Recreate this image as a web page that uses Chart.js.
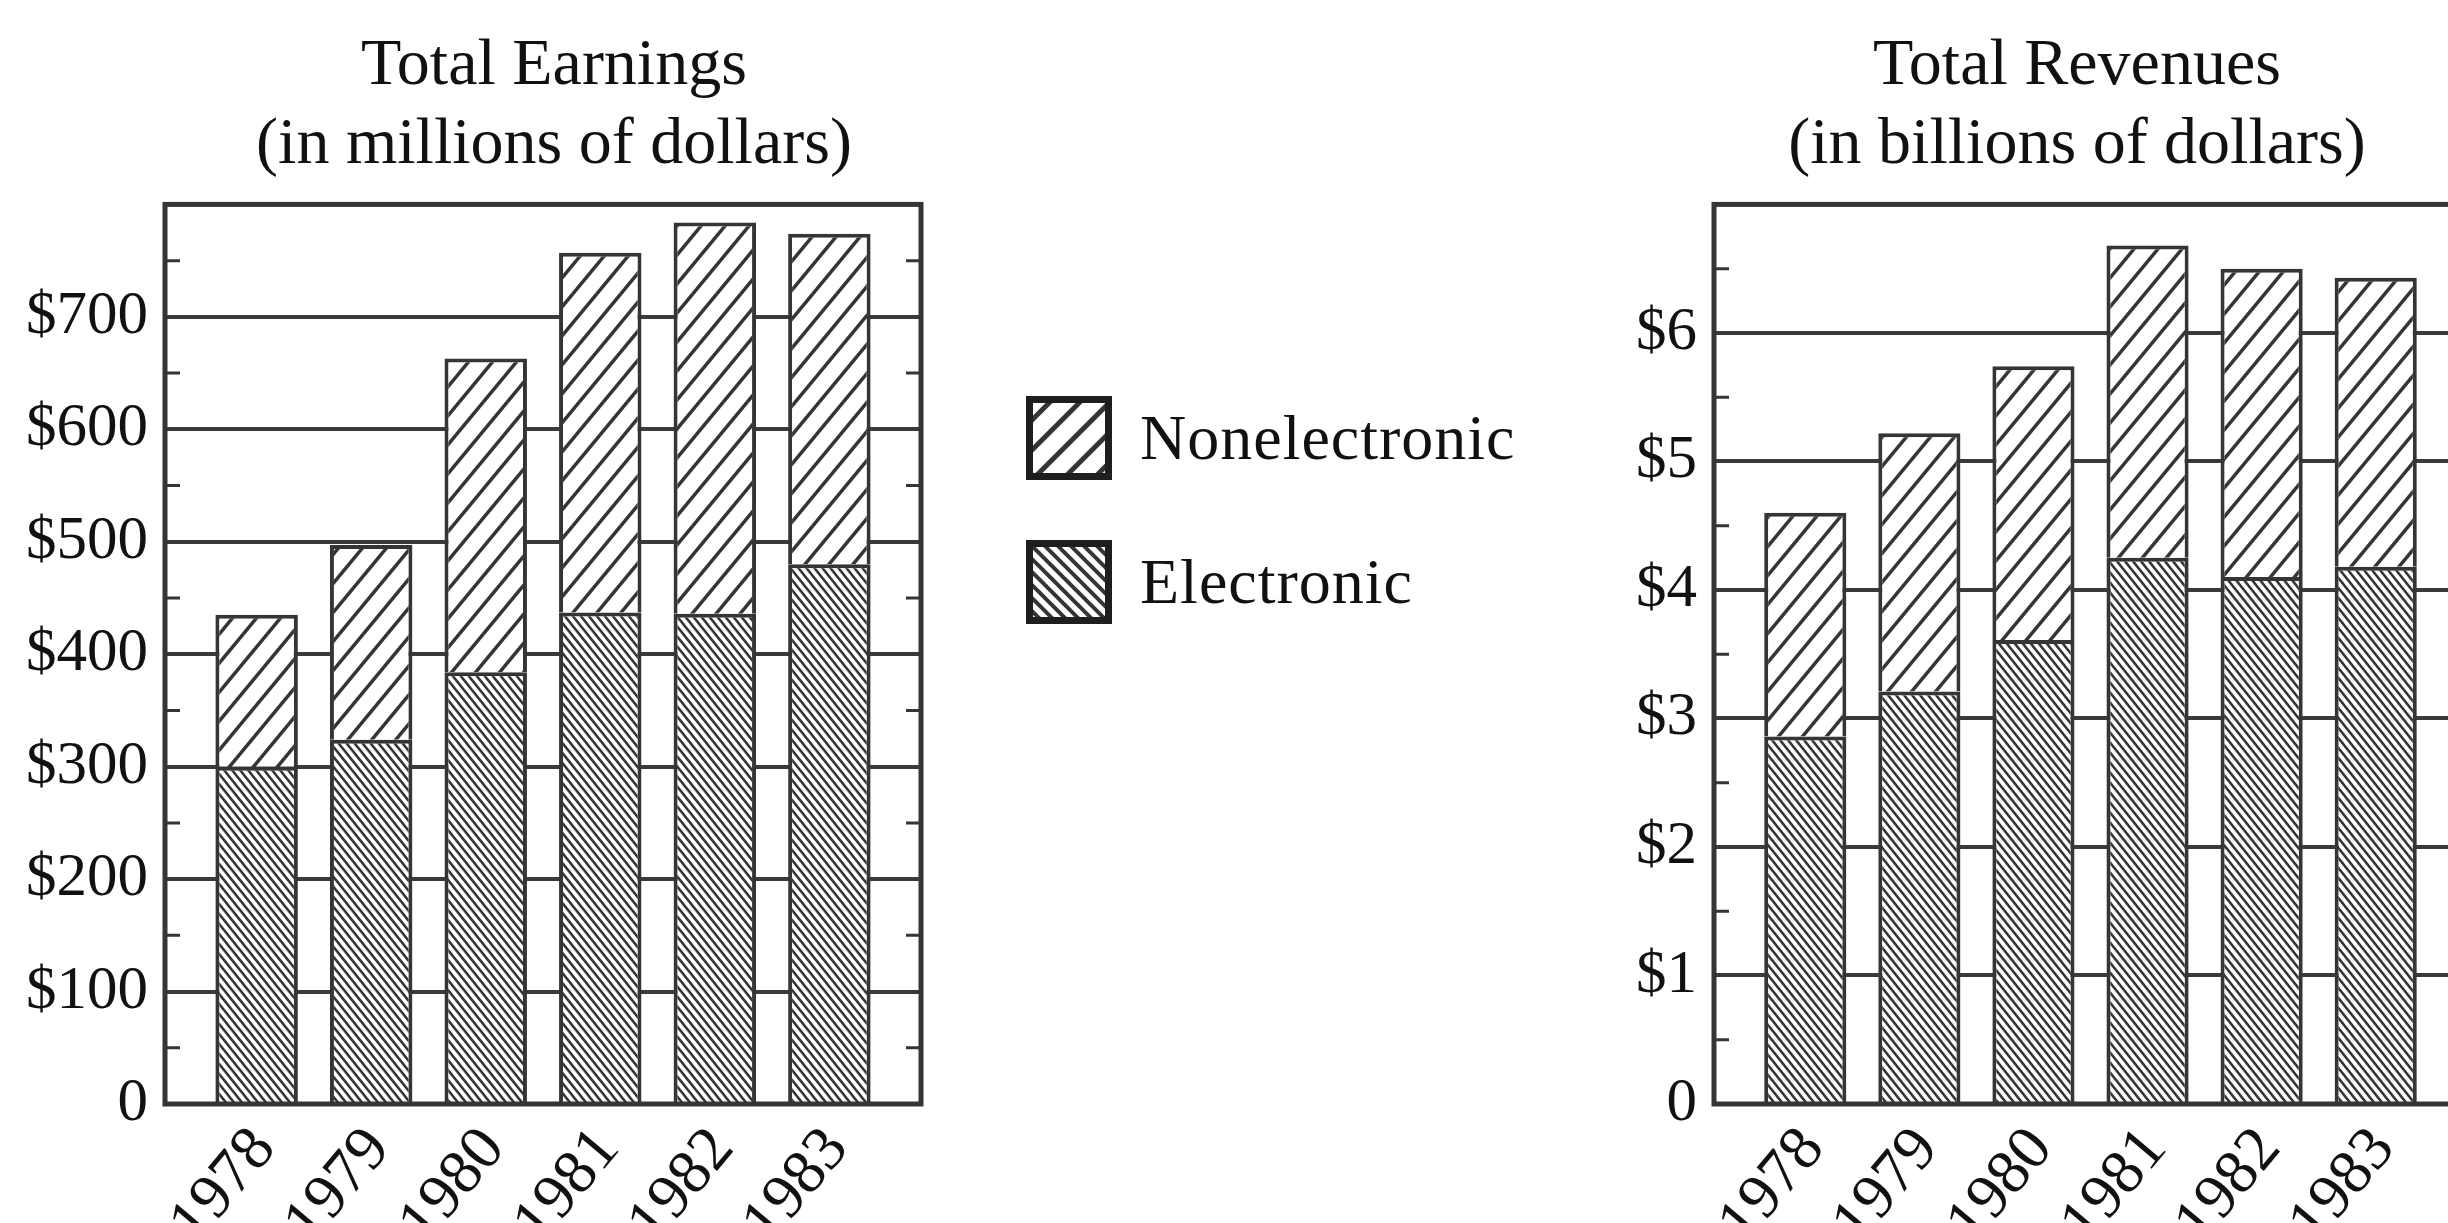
<!DOCTYPE html>
<html>
<head>
<meta charset="utf-8">
<title>Earnings and Revenues</title>
<script src="https://cdn.jsdelivr.net/npm/chart.js@4.4.1/dist/chart.umd.min.js"></script>
<style>
  html, body { margin: 0; padding: 0; background: #fff; overflow: hidden; }
  body { width: 2448px; height: 1223px; position: relative; font-family: 'Liberation Serif', serif; }
  .box { position: absolute; top: 0; }
  #leftBox { left: 0; }
  #rightBox { left: 1500px; }
  #legend { position: absolute; left: 1026px; top: 396px; z-index: 2; }
  .item { display: flex; align-items: center; height: 84px; margin-bottom: 60px; }
  .item span { font-size: 64px; margin-left: 28px; color: #111; letter-spacing: 1px; }
</style>
</head>
<body>
<div id="leftBox" class="box"><canvas id="earnings" width="1108" height="1223"></canvas></div>
<div id="rightBox" class="box"><canvas id="revenues" width="1154" height="1223"></canvas></div>
<div id="legend">
  <div class="item"><canvas id="swNon" width="86" height="84"></canvas><span>Nonelectronic</span></div>
  <div class="item"><canvas id="swElec" width="86" height="84"></canvas><span>Electronic</span></div>
</div>
<script>
// =============================
// DATA
// =============================
const years = ["1978", "1979", "1980", "1981", "1982", "1983"];

// Total earnings, millions of dollars
const earnElectronic    = [300, 324, 384, 437, 436, 480];
const earnNonelectronic = [135, 173, 279, 320, 348, 294];

// Total revenues, billions of dollars
const revElectronic    = [2.86, 3.21, 3.61, 4.25, 4.10, 4.18];
const revNonelectronic = [1.74, 2.01, 2.13, 2.43, 2.40, 2.25];

// =============================
// STYLE
// =============================
const SERIF = "'Liberation Serif', 'Times New Roman', serif";
const INK = "#353535";
const GRID = "#3a3a3a";

// diagonal hatch tile, '/' or '\'
function makeHatch(dir, w, h, lw) {
    const c = document.createElement("canvas");
    c.width = w;
    c.height = h;
    const g = c.getContext("2d");
    g.fillStyle = "#fff";
    g.fillRect(0, 0, w, h);
    g.strokeStyle = INK;
    g.lineWidth = lw;
    g.lineCap = "square";
    g.beginPath();
    for (let k = -1; k <= 1; k++) {
        if (dir === "/") {
            g.moveTo(k * w, h);
            g.lineTo(k * w + w, 0);
        } else {
            g.moveTo(k * w, 0);
            g.lineTo(k * w + w, h);
        }
    }
    g.stroke();
    return g.createPattern(c, "repeat");
}

const hatchNon = makeHatch("/", 24, 29, 3.5);
const hatchElec = makeHatch("\\", 8, 10, 2.6);

// frame round the plot + short minor ticks on both sides
const framePlugin = {
    id: "frame",
    afterDatasetsDraw(chart, args, opts) {
        const { ctx, chartArea: a } = chart;
        const y = chart.scales.y;
        ctx.save();
        ctx.strokeStyle = INK;
        ctx.lineWidth = 3;
        ctx.beginPath();
        y.ticks.forEach(t => {
            const r = t.value / opts.major;
            if (Math.abs(r - Math.round(r)) > 1e-6) {
                const py = y.getPixelForValue(t.value);
                ctx.moveTo(a.left, py);
                ctx.lineTo(a.left + 15, py);
                ctx.moveTo(a.right, py);
                ctx.lineTo(a.right - 15, py);
            }
        });
        ctx.stroke();
        ctx.lineWidth = 5;
        ctx.strokeRect(a.left, a.top, a.right - a.left, a.bottom - a.top);
        ctx.restore();
    }
};

function buildChart(canvasId, titleLines, elec, nonel, yMax, major, minor, yWidth, fmt) {
    const isMajor = v => Math.abs(v / major - Math.round(v / major)) < 1e-6;
    return new Chart(document.getElementById(canvasId), {
        type: "bar",
        data: {
            datasets: [
                {
                    label: "Electronic",
                    data: years.map((yr, i) => ({ x: i, y: elec[i] })),
                    backgroundColor: hatchElec,
                    borderColor: INK,
                    borderWidth: 4
                },
                {
                    label: "Nonelectronic",
                    data: years.map((yr, i) => ({ x: i, y: nonel[i] })),
                    backgroundColor: hatchNon,
                    borderColor: INK,
                    borderWidth: 4
                }
            ]
        },
        options: {
            responsive: false,
            animation: false,
            layout: { padding: { top: 27, left: 0, right: 0, bottom: 0 } },
            plugins: {
                legend: { display: false },
                tooltip: { enabled: false },
                title: {
                    display: true,
                    text: titleLines,
                    color: "#111",
                    font: { family: SERIF, size: 66, weight: "normal", lineHeight: 1.2 },
                    padding: { top: 0, bottom: 19 }
                },
                frame: { major: major }
            },
            scales: {
                x: {
                    type: "linear",
                    min: -0.8,
                    max: 5.8,
                    offset: false,
                    stacked: true,
                    afterFit: s => { s.height = 119; },
                    grid: { display: false },
                    border: { display: false },
                    ticks: {
                        stepSize: 1,
                        includeBounds: false,
                        autoSkip: false,
                        minRotation: 50,
                        maxRotation: 50,
                        padding: 2,
                        labelOffset: 8,
                        color: "#111",
                        font: { family: SERIF, size: 63 },
                        callback: v => (Number.isInteger(v) && years[v]) ? years[v] : ""
                    }
                },
                y: {
                    min: 0,
                    max: yMax,
                    stacked: true,
                    afterFit: s => { s.width = yWidth; },
                    border: { display: false },
                    grid: {
                        drawTicks: false,
                        lineWidth: 4,
                        color: c => (c.tick && isMajor(c.tick.value) && c.tick.value > 0 && c.tick.value < yMax) ? GRID : "rgba(0,0,0,0)"
                    },
                    ticks: {
                        stepSize: minor,
                        autoSkip: false,
                        padding: 17,
                        color: "#111",
                        font: { family: SERIF, size: 61 },
                        callback: v => (isMajor(v) && v < yMax) ? fmt(v) : ""
                    }
                },
                pad: {
                    type: "linear",
                    position: "right",
                    afterFit: s => { s.width = 187; },
                    grid: { display: false },
                    border: { display: false },
                    ticks: { display: false }
                }
            }
        },
        plugins: [framePlugin]
    });
}

// =============================
// CHARTS
// =============================
buildChart("earnings", ["Total Earnings", "(in millions of dollars)"],
    earnElectronic, earnNonelectronic, 800, 100, 50, 165,
    v => v === 0 ? "0" : "$" + v);

buildChart("revenues", ["Total Revenues", "(in billions of dollars)"],
    revElectronic, revNonelectronic, 7, 1, 0.5, 214,
    v => v === 0 ? "0" : "$" + v);

// =============================
// LEGEND SWATCHES
// =============================
function drawSwatch(id, pattern) {
    const cv = document.getElementById(id);
    const g = cv.getContext("2d");
    g.fillStyle = pattern;
    g.fillRect(0, 0, cv.width, cv.height);
    g.strokeStyle = "#1e1e1e";
    g.lineWidth = 7;
    g.strokeRect(3.5, 3.5, cv.width - 7, cv.height - 7);
}
drawSwatch("swNon", makeHatch("/", 30, 30, 5));
drawSwatch("swElec", makeHatch("\\", 13, 13, 4));
</script>
</body>
</html>
